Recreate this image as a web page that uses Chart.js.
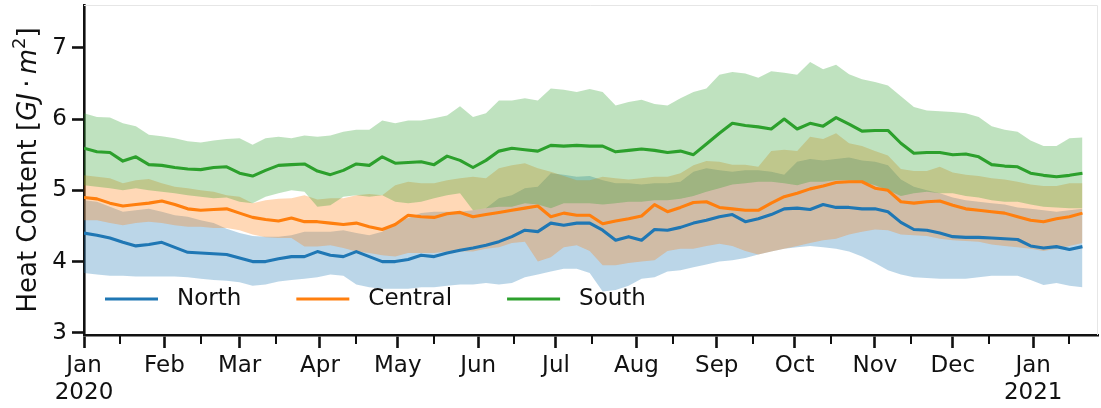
<!DOCTYPE html>
<html>
<head>
<meta charset="utf-8">
<title>Heat content by region</title>
<script src="https://cdn.jsdelivr.net/npm/chart.js@4.4.0/dist/chart.umd.min.js"></script>
<style>
  html, body { margin: 0; padding: 0; background: #fff; }
  #wrap { width: 1101px; height: 408px; }
</style>
</head>
<body>
<div id="wrap"><canvas id="chart" width="1101" height="408"></canvas></div>
<script>
// sample dates (every 5 days from 1 Jan 2020)
const sampleDates = [
  '2020-01-01','2020-01-06','2020-01-11','2020-01-16','2020-01-21','2020-01-26','2020-01-31','2020-02-05','2020-02-10','2020-02-15',
  '2020-02-20','2020-02-25','2020-03-01','2020-03-06','2020-03-11','2020-03-16','2020-03-21','2020-03-26','2020-03-31','2020-04-05',
  '2020-04-10','2020-04-15','2020-04-20','2020-04-25','2020-04-30','2020-05-05','2020-05-10','2020-05-15','2020-05-20','2020-05-25',
  '2020-05-30','2020-06-04','2020-06-09','2020-06-14','2020-06-19','2020-06-24','2020-06-29','2020-07-04','2020-07-09','2020-07-14',
  '2020-07-19','2020-07-24','2020-07-29','2020-08-03','2020-08-08','2020-08-13','2020-08-18','2020-08-23','2020-08-28','2020-09-02',
  '2020-09-07','2020-09-12','2020-09-17','2020-09-22','2020-09-27','2020-10-02','2020-10-07','2020-10-12','2020-10-17','2020-10-22',
  '2020-10-27','2020-11-01','2020-11-06','2020-11-11','2020-11-16','2020-11-21','2020-11-26','2020-12-01','2020-12-06','2020-12-11',
  '2020-12-16','2020-12-21','2020-12-26','2020-12-31','2021-01-05','2021-01-10','2021-01-15','2021-01-20'
];

// North
const northMean = [
  4.40,4.37,4.33,4.27,4.22,4.24,4.27,4.20,4.13,4.12,
  4.11,4.10,4.05,4.00,4.00,4.04,4.07,4.07,4.14,4.09,
  4.07,4.14,4.07,4.00,4.00,4.03,4.09,4.07,4.12,4.16,
  4.19,4.23,4.28,4.35,4.44,4.42,4.54,4.51,4.54,4.54,
  4.44,4.30,4.35,4.30,4.45,4.44,4.48,4.54,4.58,4.63,
  4.66,4.56,4.60,4.66,4.74,4.75,4.73,4.80,4.76,4.76,
  4.74,4.74,4.70,4.55,4.45,4.44,4.40,4.35,4.34,4.34,
  4.33,4.32,4.31,4.22,4.19,4.21,4.17,4.21
];
const northLow = [
  3.84,3.82,3.80,3.80,3.79,3.79,3.79,3.79,3.78,3.76,
  3.74,3.73,3.71,3.66,3.68,3.72,3.74,3.76,3.78,3.82,
  3.80,3.68,3.64,3.62,3.62,3.62,3.64,3.64,3.66,3.68,
  3.68,3.70,3.68,3.70,3.78,3.82,3.86,3.90,3.90,3.84,
  3.58,3.60,3.66,3.76,3.78,3.86,3.88,3.92,3.96,4.00,
  4.02,4.05,4.10,4.14,4.18,4.20,4.22,4.20,4.18,4.14,
  4.07,3.98,3.88,3.82,3.78,3.77,3.76,3.76,3.76,3.78,
  3.80,3.80,3.80,3.74,3.67,3.70,3.66,3.64
];
const northHigh = [
  4.86,4.84,4.77,4.70,4.72,4.74,4.70,4.65,4.63,4.58,
  4.54,4.46,4.40,4.36,4.35,4.35,4.37,4.42,4.42,4.42,
  4.44,4.40,4.37,4.42,4.54,4.61,4.68,4.70,4.70,4.70,
  4.72,4.75,4.89,4.93,5.03,5.05,5.24,5.22,5.19,5.20,
  5.14,5.10,5.10,5.08,5.10,5.10,5.12,5.26,5.31,5.28,
  5.26,5.28,5.28,5.26,5.22,5.40,5.44,5.42,5.44,5.46,
  5.42,5.40,5.35,5.15,5.05,5.00,4.96,4.90,4.86,4.84,
  4.82,4.80,4.76,4.74,4.72,4.70,4.72,4.74
];

// Central
const centralMean = [
  4.90,4.88,4.82,4.78,4.80,4.82,4.85,4.80,4.74,4.72,
  4.73,4.74,4.68,4.62,4.59,4.57,4.61,4.56,4.56,4.54,
  4.52,4.54,4.49,4.45,4.52,4.65,4.63,4.62,4.67,4.69,
  4.63,4.66,4.69,4.72,4.75,4.78,4.63,4.68,4.65,4.65,
  4.53,4.57,4.60,4.64,4.80,4.70,4.76,4.83,4.84,4.76,
  4.74,4.72,4.72,4.82,4.91,4.96,5.02,5.06,5.11,5.12,
  5.12,5.03,5.00,4.84,4.82,4.84,4.85,4.79,4.74,4.72,
  4.70,4.68,4.63,4.58,4.56,4.60,4.63,4.68
];
const centralLow = [
  4.58,4.58,4.54,4.51,4.54,4.56,4.54,4.51,4.49,4.49,
  4.47,4.47,4.44,4.38,4.34,4.33,4.33,4.21,4.21,4.23,
  4.19,4.14,4.12,4.09,4.07,4.12,4.12,4.12,4.14,4.14,
  4.14,4.18,4.20,4.26,4.28,4.00,4.06,4.20,4.23,4.15,
  3.95,3.95,3.98,4.00,4.02,4.15,4.18,4.18,4.22,4.25,
  4.22,4.15,4.10,4.14,4.18,4.22,4.26,4.30,4.32,4.38,
  4.42,4.45,4.44,4.38,4.37,4.36,4.32,4.30,4.29,4.28,
  4.24,4.22,4.20,4.18,4.15,4.18,4.22,4.26
];
const centralHigh = [
  5.21,5.19,5.17,5.10,5.14,5.16,5.10,5.05,5.03,5.00,
  4.98,4.93,4.91,4.82,4.86,4.88,4.89,4.93,4.87,4.89,
  4.89,4.93,4.95,4.93,5.07,5.12,5.10,5.10,5.14,5.17,
  5.19,5.17,5.31,5.35,5.38,5.31,5.26,5.20,5.14,5.14,
  5.19,5.17,5.15,5.17,5.19,5.19,5.24,5.35,5.41,5.40,
  5.36,5.36,5.33,5.55,5.57,5.55,5.75,5.72,5.80,5.66,
  5.62,5.55,5.49,5.30,5.27,5.27,5.33,5.25,5.22,5.20,
  5.17,5.15,5.12,5.08,5.06,5.06,5.10,5.10
];

// South
const southMean = [
  5.59,5.54,5.53,5.41,5.47,5.36,5.35,5.32,5.30,5.29,
  5.32,5.33,5.24,5.20,5.28,5.35,5.36,5.37,5.27,5.22,
  5.28,5.37,5.35,5.47,5.38,5.39,5.40,5.36,5.48,5.42,
  5.32,5.42,5.55,5.59,5.57,5.55,5.63,5.62,5.63,5.62,
  5.62,5.54,5.56,5.58,5.56,5.53,5.55,5.50,5.65,5.80,
  5.94,5.91,5.89,5.86,6.00,5.86,5.94,5.90,6.02,5.93,
  5.83,5.84,5.84,5.66,5.52,5.53,5.53,5.50,5.51,5.47,
  5.36,5.34,5.33,5.24,5.21,5.19,5.21,5.24
];
const southLow = [
  5.07,5.05,5.03,5.00,5.03,5.00,4.98,4.96,4.93,4.91,
  4.89,4.90,4.84,4.82,4.91,4.96,5.00,4.98,4.77,4.79,
  4.91,4.93,4.91,4.93,4.84,4.82,4.84,4.89,4.93,4.96,
  4.72,4.75,4.77,4.77,4.82,4.80,4.75,4.82,4.82,4.82,
  4.80,4.82,4.84,4.84,4.86,4.86,4.88,4.92,4.98,5.03,
  5.08,5.10,5.12,5.12,5.10,5.07,5.12,5.12,5.14,5.14,
  5.12,5.07,5.00,4.92,4.96,4.98,4.96,4.96,4.92,4.90,
  4.86,4.84,4.84,4.80,4.77,4.76,4.75,4.75
];
const southHigh = [
  6.08,6.03,6.02,5.94,5.90,5.78,5.76,5.73,5.69,5.67,
  5.70,5.72,5.73,5.64,5.73,5.75,5.73,5.77,5.75,5.77,
  5.82,5.85,5.85,5.98,5.94,5.98,5.98,6.01,6.05,6.18,
  6.03,6.08,6.26,6.26,6.29,6.26,6.43,6.41,6.38,6.42,
  6.38,6.19,6.24,6.27,6.21,6.19,6.29,6.38,6.43,6.62,
  6.66,6.64,6.58,6.67,6.65,6.62,6.80,6.70,6.76,6.63,
  6.56,6.52,6.47,6.32,6.17,6.12,6.11,6.10,6.08,6.03,
  5.90,5.85,5.82,5.70,5.62,5.62,5.73,5.74
];

// axis ticks
const monthTickDates = ['2020-01-01','2020-02-01','2020-03-01','2020-04-01','2020-05-01','2020-06-01','2020-07-01',
  '2020-08-01','2020-09-01','2020-10-01','2020-11-01','2020-12-01','2021-01-01'];
const monthLabels = [['Jan','2020'],'Feb','Mar','Apr','May','Jun','Jul','Aug','Sep','Oct','Nov','Dec',['Jan','2021']];
const midMonthDates = ['2020-01-15','2020-02-15','2020-03-15','2020-04-15','2020-05-15','2020-06-15','2020-07-15',
  '2020-08-15','2020-09-15','2020-10-15','2020-11-15','2020-12-15','2021-01-15'];
const yTicks = [3, 4, 5, 6, 7];
const xEndDate = '2021-01-26';

const INK = '#111';
const FONT = '"DejaVu Sans", sans-serif';
const COLORS = { North: '#1f77b4', Central: '#ff7f0e', South: '#2ca02c' };

const t0 = Date.parse('2020-01-01');
const dayOf = d => (Date.parse(d) - t0) / 86400000;
const xs = sampleDates.map(dayOf);
const pts = vals => vals.map((v, i) => ({ x: xs[i], y: v }));

function hexA(hex, a) {
  const n = parseInt(hex.slice(1), 16);
  return `rgba(${n >> 16},${(n >> 8) & 255},${n & 255},${a})`;
}

// shaded band: upper edge, then lower edge filled up to it
function band(name, low, high, order) {
  const c = COLORS[name];
  return [
    { data: pts(high), borderColor: 'rgba(0,0,0,0)', borderWidth: 0, pointRadius: 0, fill: false, order: order + 1 },
    { data: pts(low), borderColor: 'rgba(0,0,0,0)', borderWidth: 0, pointRadius: 0, fill: '-1',
      backgroundColor: hexA(c, 0.3), order: order }
  ];
}

function meanLine(name, mean, order) {
  return { label: name, data: pts(mean), borderColor: COLORS[name], borderWidth: 3.1, pointRadius: 0,
    fill: false, borderJoinStyle: 'round', order: order };
}

// bands go underneath, mean lines on top (lower order draws later)
const datasets = [
  ...band('North', northLow, northHigh, 20),
  ...band('Central', centralLow, centralHigh, 15),
  ...band('South', southLow, southHigh, 10),
  meanLine('North', northMean, 2),
  meanLine('Central', centralMean, 1),
  meanLine('South', southMean, 0)
];

function drawYTitle(ctx, cx, cy) {
  const size = 26;
  const parts = [
    { t: 'Heat Content [', f: `${size}px ${FONT}`, dy: 0 },
    { t: 'GJ', f: `italic ${size}px ${FONT}`, dy: 0 },
    { t: '\u2009\u00b7\u2009', f: `${size}px ${FONT}`, dy: 0 },
    { t: 'm', f: `italic ${size}px ${FONT}`, dy: 0 },
    { t: '2', f: `${Math.round(size * 0.7)}px ${FONT}`, dy: -size * 0.42 },
    { t: ']', f: `${size}px ${FONT}`, dy: 0 }
  ];
  let total = 0;
  parts.forEach(p => { ctx.font = p.f; p.w = ctx.measureText(p.t).width; total += p.w; });
  ctx.save();
  ctx.translate(cx, cy);
  ctx.rotate(-Math.PI / 2);
  ctx.fillStyle = INK;
  ctx.textBaseline = 'alphabetic';
  let x = -total / 2;
  parts.forEach(p => { ctx.font = p.f; ctx.fillText(p.t, x, p.dy); x += p.w; });
  ctx.restore();
}

function drawLegend(chart) {
  const ctx = chart.ctx;
  const items = chart.data.datasets.filter(ds => ds.label);
  let x = 105;
  const y = 299;
  ctx.save();
  ctx.font = `23px ${FONT}`;
  ctx.textBaseline = 'middle';
  items.forEach(ds => {
    ctx.strokeStyle = ds.borderColor;
    ctx.lineWidth = 3.1;
    ctx.beginPath();
    ctx.moveTo(x, y);
    ctx.lineTo(x + 53, y);
    ctx.stroke();
    ctx.fillStyle = INK;
    ctx.fillText(ds.label, x + 72, y);
    x += 72 + ctx.measureText(ds.label).width + 55;
  });
  ctx.restore();
}

const decorations = {
  id: 'decorations',
  afterDraw(chart) {
    const { ctx, chartArea: a, scales } = chart;
    ctx.save();
    // light top/right frame
    ctx.strokeStyle = '#e6e6e6';
    ctx.lineWidth = 1;
    ctx.beginPath();
    ctx.moveTo(a.left, a.top + 0.5);
    ctx.lineTo(a.right - 0.5, a.top + 0.5);
    ctx.lineTo(a.right - 0.5, a.bottom);
    ctx.stroke();
    // mid-month minor ticks
    ctx.strokeStyle = INK;
    ctx.lineWidth = 2;
    midMonthDates.forEach(d => {
      const px = Math.round(scales.x.getPixelForValue(dayOf(d)));
      ctx.beginPath();
      ctx.moveTo(px, a.bottom);
      ctx.lineTo(px, a.bottom + 9);
      ctx.stroke();
    });
    ctx.restore();
    drawYTitle(ctx, 36, (a.top + a.bottom) / 2);
    drawLegend(chart);
  }
};

// keep the plot box fixed regardless of label overhang
function noOverhang(s) {
  s.paddingTop = 0; s.paddingBottom = 0; s.paddingLeft = 0; s.paddingRight = 0;
}

Chart.defaults.font.family = FONT;
Chart.defaults.color = INK;

new Chart(document.getElementById('chart'), {
  type: 'line',
  data: { datasets },
  plugins: [decorations],
  options: {
    responsive: false,
    animation: false,
    devicePixelRatio: 1,
    layout: { padding: { top: 5, right: 3, left: 0, bottom: 0 } },
    plugins: { legend: { display: false }, tooltip: { enabled: false } },
    scales: {
      x: {
        type: 'linear',
        min: 0,
        max: dayOf(xEndDate),
        afterBuildTicks: s => { s.ticks = monthTickDates.map(d => ({ value: dayOf(d) })); },
        afterFit: s => { s.height = 73; noOverhang(s); },
        ticks: {
          callback: (v, i) => monthLabels[i],
          font: { size: 23 },
          color: INK,
          padding: 4,
          autoSkip: false,
          maxRotation: 0,
          minRotation: 0
        },
        grid: { drawOnChartArea: false, drawTicks: true, tickLength: 13, tickWidth: 2.6, tickColor: INK },
        border: { display: true, color: INK, width: 2.6 }
      },
      y: {
        type: 'linear',
        min: 2.97,
        max: 7.6,
        afterBuildTicks: s => { s.ticks = yTicks.map(v => ({ value: v })); },
        afterFit: s => { s.width = 84; noOverhang(s); },
        ticks: {
          callback: v => v.toFixed(0),
          font: { size: 23 },
          color: INK,
          padding: 5
        },
        grid: { drawOnChartArea: false, drawTicks: true, tickLength: 12, tickWidth: 2.6, tickColor: INK },
        border: { display: true, color: INK, width: 2.6 }
      }
    }
  }
});
</script>
</body>
</html>
